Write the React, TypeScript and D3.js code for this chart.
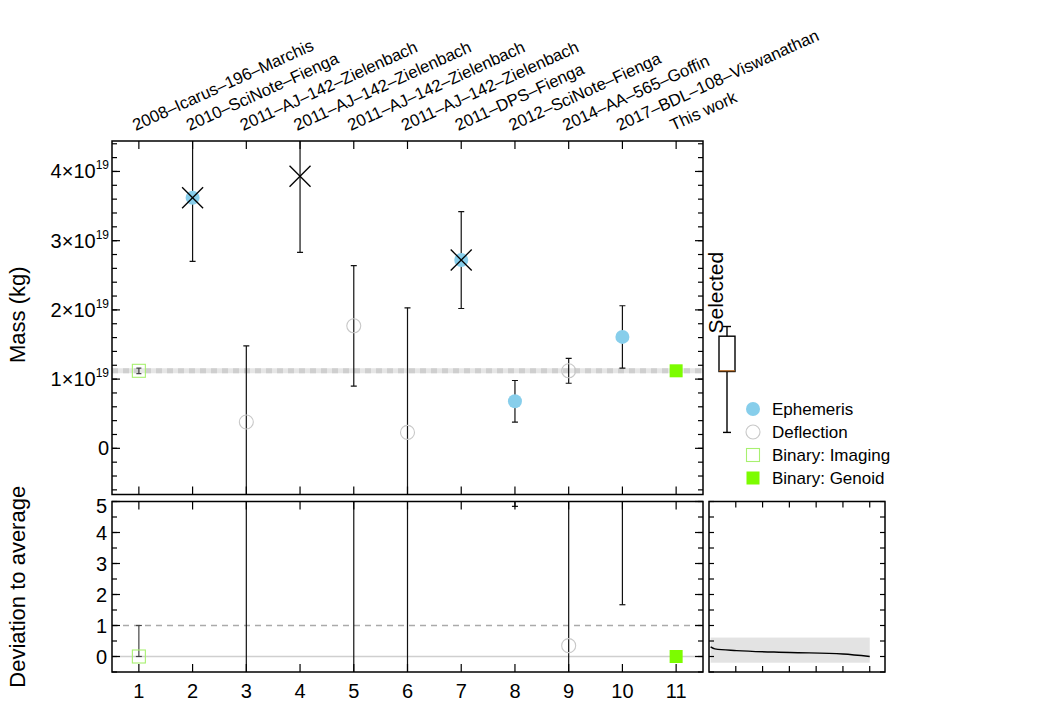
import React from 'react';
import * as d3 from 'd3';

// ---------- data ----------
const refLabels = [
  '2008–Icarus–196–Marchis',
  '2010–SciNote–Fienga',
  '2011–AJ–142–Zielenbach',
  '2011–AJ–142–Zielenbach',
  '2011–AJ–142–Zielenbach',
  '2011–AJ–142–Zielenbach',
  '2011–DPS–Fienga',
  '2012–SciNote–Fienga',
  '2014–AA–565–Goffin',
  '2017–BDL–108–Viswanathan',
  'This work',
];
const estimateIndex = [1, 2, 3, 4, 5, 6, 7, 8, 9, 10, 11];
// mass in units of 1e19 kg
const massValue = [1.12, 3.62, 0.38, 3.93, 1.77, 0.23, 2.72, 0.68, 1.12, 1.61, 1.12];
const massError = [0.04, 0.92, 1.10, 1.10, 0.87, 1.80, 0.70, 0.30, 0.18, 0.45, 0];
const massMethod = ['imaging', 'ephemeris', 'deflection', 'none', 'deflection', 'deflection', 'ephemeris', 'ephemeris', 'deflection', 'ephemeris', 'genoid'];
const rejected = [false, true, false, true, false, false, true, false, false, false, false];
// deviation to average (lower panel); NaN = not shown
const devValue = [0, NaN, 8, NaN, 9, 8, NaN, 6, 0.35, 7, 0];
const devErrLow = [0, NaN, 12, NaN, 12, 12, NaN, 1.16, 6, 5.33, 0];
const devErrHigh = [1, NaN, 12, NaN, 12, 12, NaN, 3, 6, 3, 0];
const averageMass = 1.12;
const massMajorTicks = [0, 1, 2, 3, 4];
const massMinorTicks = d3.range(-0.6, 4.41, 0.2);
const devMajorTicks = [0, 1, 2, 3, 4, 5];
const devMinorTicks = d3.range(-0.5, 5.01, 0.5);
// selected-estimates box plot (1e19 kg)
const boxStats = [0.23, 1.11, 1.12, 1.62, 1.76]; // min, q1, median, q3, max
// lower-right panel: cumulative deviation curve
const cumTicks = [1, 2, 3, 4, 5, 6];
const cumX = [0.06, 0.22, 1.03, 3.02, 5.0, 6.0];
const cumY = [0.31, 0.245, 0.19, 0.13, 0.08, 0.0];
const cumBandX = [0.06, 6.0];
const cumBandY = [-0.2, 0.61];
const legendLabels = ['Ephemeris', 'Deflection', 'Binary: Imaging', 'Binary: Genoid'];
const legendMethods = ['ephemeris', 'deflection', 'imaging', 'genoid'];

// ---------- styles ----------
const FONT = '"Liberation Sans", Arial, Helvetica, sans-serif';
const C_EPH = '#87CEEB';
const C_DEF = '#c8c8c8';
const C_IMG = '#a8f070';
const C_GEN = '#7CFC00';

function Marker({ m, cx, cy }: { m: string; cx: number; cy: number }) {
  if (m === 'ephemeris') return <circle cx={cx} cy={cy} r={7} fill={C_EPH} />;
  if (m === 'deflection') return <circle cx={cx} cy={cy} r={7} fill="none" stroke={C_DEF} strokeWidth={1.1} />;
  if (m === 'imaging') return <rect x={cx - 6.5} y={cy - 6.5} width={13} height={13} fill="none" stroke={C_IMG} strokeWidth={1.1} />;
  if (m === 'genoid') return <rect x={cx - 6.5} y={cy - 6.5} width={13} height={13} fill={C_GEN} />;
  return null;
}

function ErrBar({ x, y0, y1, color = '#111', cap = 3 }: { x: number; y0: number; y1: number; color?: string; cap?: number }) {
  return (
    <g stroke={color} strokeWidth={1.2}>
      <line x1={x} x2={x} y1={y0} y2={y1} />
      <line x1={x - cap} x2={x + cap} y1={y0} y2={y0} />
      <line x1={x - cap} x2={x + cap} y1={y1} y2={y1} />
    </g>
  );
}

export default function App() {
  const W = 1063, H = 708;
  const L = 112, R = 703, T1 = 141, B1 = 494.5, T2 = 501.5, B2 = 672;
  const RL = 709, RR = 885;
  const x = d3.scaleLinear().domain([0.5, 11.5]).range([L, R]);
  const yM = d3.scaleLinear().domain([-0.667, 4.44]).range([B1, T1]);
  const yD = d3.scaleLinear().domain([-0.5, 5]).range([B2, T2]);
  const xR = d3.scaleLinear().domain([0, 6.57]).range([RL, RR]);
  const cumLine = d3.line<number>().x((_, i) => xR(cumX[i])).y((d) => yD(d)).curve(d3.curveMonotoneX);
  const boxX = 727;
  const MAJ = 8, MIN = 5;

  return (
    <svg width={W} height={H} style={{ position: 'absolute', left: 0, top: 0, background: '#fff' }} fontFamily={FONT}>
      <defs>
        <clipPath id="clipTop"><rect x={L} y={T1} width={R - L} height={B1 - T1} /></clipPath>
        <clipPath id="clipBot"><rect x={L} y={T2} width={R - L} height={B2 - T2} /></clipPath>
      </defs>

      {/* top reference labels */}
      {estimateIndex.map((d, i) => (
        <text key={'lab' + i} transform={`translate(${x(d) - 3},${T1 - 10}) rotate(-24.5)`} fontSize={16.7} fill="#000">
          {refLabels[i]}
        </text>
      ))}

      {/* ---------- top panel ---------- */}
      <g clipPath="url(#clipTop)">
        <line x1={L} x2={R} y1={yM(averageMass)} y2={yM(averageMass)} stroke="#e6e6e6" strokeWidth={5} />
        <line x1={L} x2={R} y1={yM(averageMass)} y2={yM(averageMass)} stroke="#cfcfcf" strokeWidth={5} strokeDasharray="6,5" />
        {estimateIndex.map((d, i) =>
          massError[i] > 0 ? (
            <ErrBar key={'eb' + i} x={x(d)} y0={yM(massValue[i] - massError[i])} y1={yM(massValue[i] + massError[i])}
              color={i === 0 ? '#444' : '#111'} cap={i === 0 ? 2.5 : 3} />
          ) : null
        )}
        {estimateIndex.map((d, i) => (
          <Marker key={'mk' + i} m={massMethod[i]} cx={x(d)} cy={yM(massValue[i])} />
        ))}
        {estimateIndex.map((d, i) =>
          rejected[i] ? (
            <g key={'rj' + i} stroke="#000" strokeWidth={1.3}>
              <line x1={x(d) - 10.5} x2={x(d) + 10.5} y1={yM(massValue[i]) - 10.5} y2={yM(massValue[i]) + 10.5} />
              <line x1={x(d) - 10.5} x2={x(d) + 10.5} y1={yM(massValue[i]) + 10.5} y2={yM(massValue[i]) - 10.5} />
            </g>
          ) : null
        )}
      </g>
      <rect x={L} y={T1} width={R - L} height={B1 - T1} fill="none" stroke="#000" strokeWidth={1.5} />
      <g stroke="#000" strokeWidth={1.2}>
        {estimateIndex.map((d) => (
          <g key={'tx' + d}>
            <line x1={x(d)} x2={x(d)} y1={B1} y2={B1 - MAJ} />
            <line x1={x(d)} x2={x(d)} y1={T1} y2={T1 + MAJ} />
          </g>
        ))}
        {massMinorTicks.map((v, i) => (
          <g key={'mn' + i}>
            <line x1={L} x2={L + MIN} y1={yM(v)} y2={yM(v)} />
            <line x1={R} x2={R - MIN} y1={yM(v)} y2={yM(v)} />
          </g>
        ))}
        {massMajorTicks.map((v) => (
          <g key={'mj' + v}>
            <line x1={L} x2={L + MAJ} y1={yM(v)} y2={yM(v)} />
            <line x1={R} x2={R - MAJ} y1={yM(v)} y2={yM(v)} />
          </g>
        ))}
      </g>
      {massMajorTicks.map((v) => (
        <text key={'ml' + v} x={109} y={yM(v) + 7} textAnchor="end" fontSize={20}>
          {v === 0 ? '0' : (
            <>
              {`${v}×10`}
              <tspan fontSize={12} dy={-9}>19</tspan>
            </>
          )}
        </text>
      ))}
      <text transform={`translate(25,${(T1 + B1) / 2 - 3}) rotate(-90)`} textAnchor="middle" fontSize={22}>Mass (kg)</text>

      {/* box plot of selected */}
      <g stroke="#000" strokeWidth={1.4} fill="none">
        <line x1={boxX} x2={boxX} y1={yM(boxStats[0])} y2={yM(boxStats[1])} />
        <line x1={boxX} x2={boxX} y1={yM(boxStats[3])} y2={yM(boxStats[4])} />
        <line x1={boxX - 4} x2={boxX + 4} y1={yM(boxStats[0])} y2={yM(boxStats[0])} />
        <line x1={boxX - 4} x2={boxX + 4} y1={yM(boxStats[4])} y2={yM(boxStats[4])} />
        <rect x={boxX - 8} y={yM(boxStats[3])} width={16} height={yM(boxStats[1]) - yM(boxStats[3])} />
      </g>
      <line x1={boxX - 8} x2={boxX + 8} y1={yM(boxStats[2])} y2={yM(boxStats[2])} stroke="#b5651d" strokeWidth={1.2} />
      <text transform={`translate(722.5,${yM(boxStats[4]) + 7}) rotate(-90)`} fontSize={21}>Selected</text>

      {/* legend */}
      {legendLabels.map((lab, i) => {
        const cy = 409 + i * 23;
        return (
          <g key={'lg' + i}>
            <Marker m={legendMethods[i]} cx={753} cy={cy} />
            <text x={772} y={cy + 6} fontSize={17}>{lab}</text>
          </g>
        );
      })}

      {/* ---------- lower panel ---------- */}
      <g clipPath="url(#clipBot)">
        <line x1={L} x2={R} y1={yD(0)} y2={yD(0)} stroke="#cfcfcf" strokeWidth={1.6} />
        <line x1={L} x2={R} y1={yD(1)} y2={yD(1)} stroke="#aaa" strokeWidth={1.3} strokeDasharray="6,5" />
        {estimateIndex.map((d, i) =>
          isNaN(devValue[i]) || devErrLow[i] + devErrHigh[i] === 0 ? null : (
            <ErrBar key={'deb' + i} x={x(d)} y0={yD(devValue[i] - devErrLow[i])} y1={yD(devValue[i] + devErrHigh[i])}
              color={i === 0 ? '#444' : '#111'} />
          )
        )}
        {estimateIndex.map((d, i) =>
          isNaN(devValue[i]) ? null : <Marker key={'dmk' + i} m={massMethod[i]} cx={x(d)} cy={yD(devValue[i])} />
        )}
      </g>
      <rect x={L} y={T2} width={R - L} height={B2 - T2} fill="none" stroke="#000" strokeWidth={1.5} />
      <g stroke="#000" strokeWidth={1.2}>
        {estimateIndex.map((d) => (
          <g key={'btx' + d}>
            <line x1={x(d)} x2={x(d)} y1={B2} y2={B2 - MAJ} />
            <line x1={x(d)} x2={x(d)} y1={T2} y2={T2 + MAJ} />
          </g>
        ))}
        {devMinorTicks.map((v, i) => (
          <g key={'dmn' + i}>
            <line x1={L} x2={L + MIN} y1={yD(v)} y2={yD(v)} />
            <line x1={R} x2={R - MIN} y1={yD(v)} y2={yD(v)} />
          </g>
        ))}
        {devMajorTicks.map((v) => (
          <g key={'dmj' + v}>
            <line x1={L} x2={L + MAJ} y1={yD(v)} y2={yD(v)} />
            <line x1={R} x2={R - MAJ} y1={yD(v)} y2={yD(v)} />
          </g>
        ))}
      </g>
      {devMajorTicks.map((v) => (
        <text key={'dl' + v} x={107} y={yD(v) + 7 + (v === 5 ? 4 : 0)} textAnchor="end" fontSize={20}>{v}</text>
      ))}
      {estimateIndex.map((d) => (
        <text key={'xl' + d} x={x(d)} y={698} textAnchor="middle" fontSize={20}>{d}</text>
      ))}
      <text transform={`translate(25,${(T2 + B2) / 2}) rotate(-90)`} textAnchor="middle" fontSize={22}>Deviation to average</text>

      {/* ---------- lower-right panel ---------- */}
      <rect x={xR(cumBandX[0])} y={yD(cumBandY[1])} width={xR(cumBandX[1]) - xR(cumBandX[0])}
        height={yD(cumBandY[0]) - yD(cumBandY[1])} fill="#e3e3e3" />
      <path d={cumLine(cumY) || ''} fill="none" stroke="#000" strokeWidth={1.4} />
      <rect x={RL} y={T2} width={RR - RL} height={B2 - T2} fill="none" stroke="#000" strokeWidth={1.5} />
      <g stroke="#000" strokeWidth={1.2}>
        {cumTicks.map((t) => (
          <g key={'rt' + t}>
            <line x1={xR(t)} x2={xR(t)} y1={B2} y2={B2 - 6} />
            <line x1={xR(t)} x2={xR(t)} y1={T2} y2={T2 + 6} />
          </g>
        ))}
        {devMinorTicks.map((v, i) => (
          <g key={'rmn' + i}>
            <line x1={RL} x2={RL + 5} y1={yD(v)} y2={yD(v)} />
            <line x1={RR} x2={RR - 5} y1={yD(v)} y2={yD(v)} />
          </g>
        ))}
      </g>
    </svg>
  );
}
